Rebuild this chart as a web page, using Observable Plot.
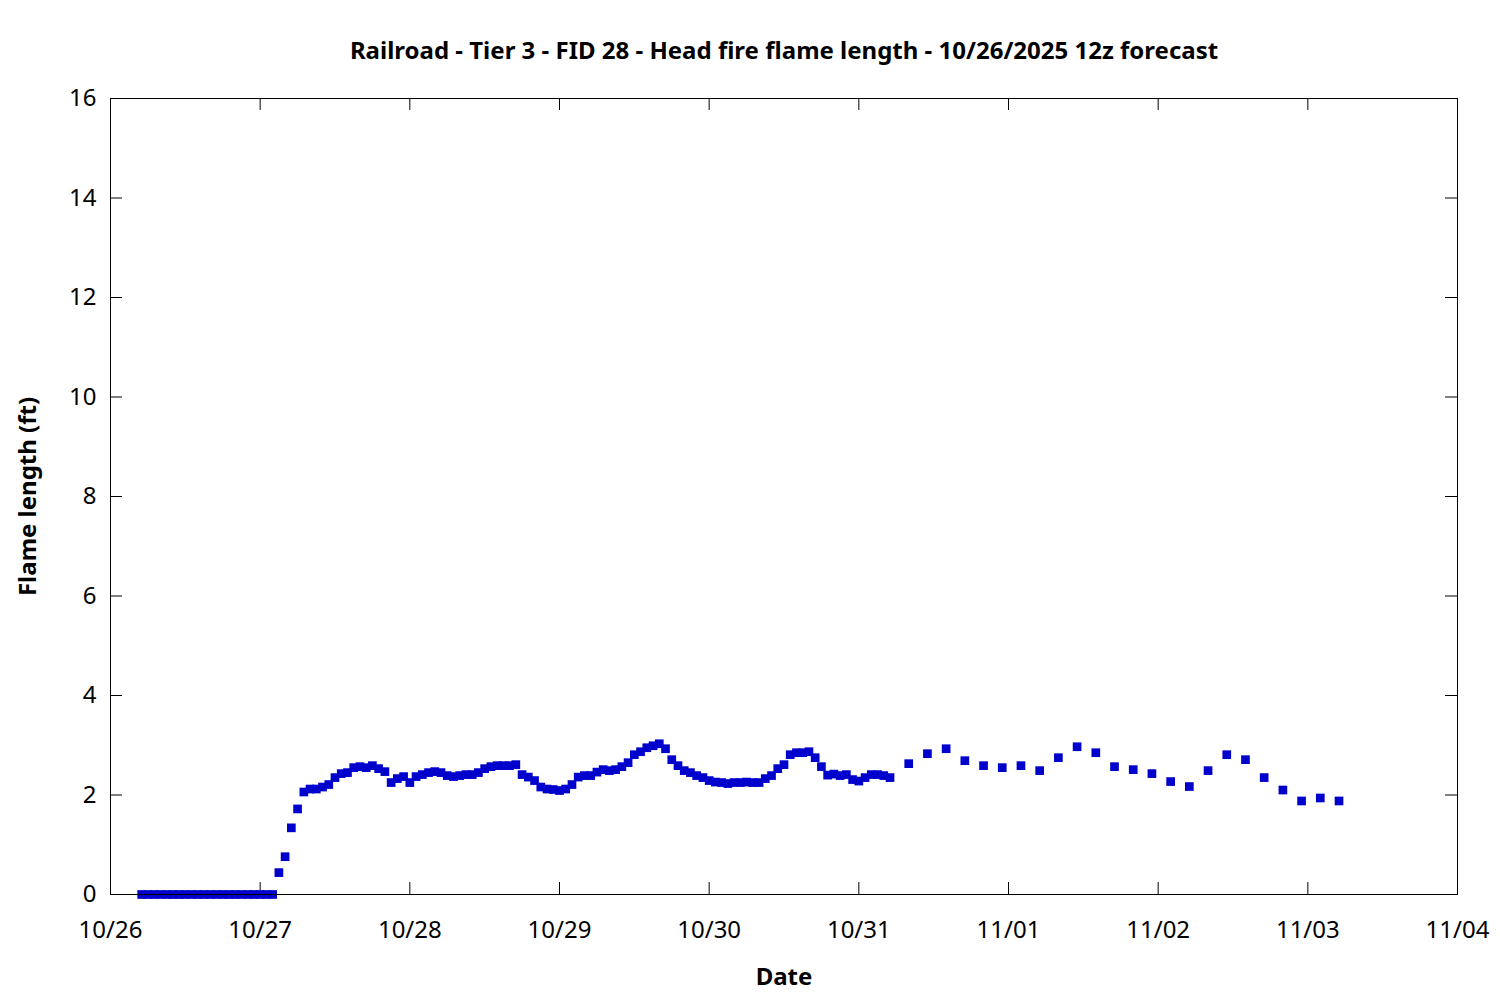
<!DOCTYPE html>
<html><head><meta charset="utf-8">
<script src="https://cdn.jsdelivr.net/npm/d3@7"></script>
<script src="https://cdn.jsdelivr.net/npm/@observablehq/plot@0.6"></script>
<style>body{margin:0;background:#fff;}</style>
</head><body><div id="chart"></div>
<script>
const titleText = "Railroad - Tier 3 - FID 28 - Head fire flame length - 10/26/2025 12z forecast";
const xLabel = "Date";
const yLabel = "Flame length (ft)";

// Hourly forecast values, 10/26 05:00 through 10/31 05:00
const hourlyStart = "2025-10-26T05:00:00Z";
const hourlyValues = [
  0,0,0,0,0,0,0,0,0,0,0,0,0,0,0,0,0,0,0,0,0,0,
  0.44,0.76,1.34,1.72,2.06,2.12,2.12,2.16,2.21,2.35,2.43,2.45,2.55,2.57,2.55,2.59,2.53,2.47,
  2.25,2.33,2.37,2.25,2.37,2.41,2.45,2.47,2.45,2.39,2.37,2.39,2.41,2.41,2.45,2.53,2.57,2.59,
  2.59,2.59,2.61,2.41,2.36,2.29,2.16,2.12,2.11,2.09,2.12,2.21,2.36,2.39,2.39,2.46,2.51,2.49,
  2.51,2.57,2.65,2.81,2.87,2.95,2.99,3.03,2.93,2.71,2.59,2.49,2.45,2.39,2.35,2.29,2.26,2.25,
  2.23,2.25,2.25,2.26,2.25,2.25,2.33,2.39,2.53,2.61,2.81,2.85,2.85,2.87,2.75,2.57,2.40,2.42,
  2.39,2.41,2.31,2.28,2.35,2.41,2.41,2.39,2.35
];

// 3-hourly forecast values, 10/31 08:00 through 11/03 05:00
const threeHourlyStart = "2025-10-31T08:00:00Z";
const threeHourlyValues = [
  2.63,2.83,2.93,2.69,2.59,2.55,2.59,2.49,2.75,2.97,2.85,2.57,
  2.51,2.43,2.27,2.17,2.49,2.81,2.71,2.35,2.10,1.88,1.94,1.88
];

const xTickLabels = ["10/26","10/27","10/28","10/29","10/30","10/31","11/01","11/02","11/03","11/04"];
const yTicks = [0,2,4,6,8,10,12,14,16];

const HOUR = 3600e3;
const data = [
  ...hourlyValues.map((v, i) => ({t: new Date(Date.parse(hourlyStart) + i * HOUR), v})),
  ...threeHourlyValues.map((v, i) => ({t: new Date(Date.parse(threeHourlyStart) + i * 3 * HOUR), v}))
];
const dayTicks = xTickLabels.map(s => {
  const [m, d] = s.split("/").map(Number);
  return new Date(Date.UTC(2025, m - 1, d));
});

const W = 1500, Ht = 1000, mL = 110, mR = 43, mT = 98, mB = 106;
const pw = W - mL - mR, ph = Ht - mT - mB;
const tickLen = 12;
const FS = 24;

const chart = Plot.plot({
  width: W, height: Ht,
  marginLeft: mL, marginRight: mR, marginTop: mT, marginBottom: mB,
  style: {fontFamily: "'Noto Sans', sans-serif", fontSize: FS + "px", color: "#000", background: "#fff"},
  x: {type: "utc", domain: [dayTicks[0], dayTicks[dayTicks.length - 1]]},
  y: {domain: [0, 16]},
  marks: [
    Plot.tickX(dayTicks, {x: d => d, insetTop: ph - tickLen, stroke: "#000"}),
    Plot.tickX(dayTicks, {x: d => d, insetBottom: ph - tickLen, stroke: "#000"}),
    Plot.tickY(yTicks, {y: d => d, insetRight: pw - tickLen, stroke: "#000"}),
    Plot.tickY(yTicks, {y: d => d, insetLeft: pw - tickLen, stroke: "#000"}),
    Plot.axisX(dayTicks, {tickSize: 0, tickPadding: 26, fontSize: FS, tickFormat: d => xTickLabels[dayTicks.findIndex(t => +t === +d)], label: null}),
    Plot.axisY(yTicks, {tickSize: 0, tickPadding: 14, fontSize: FS, tickFormat: d => String(d), label: null}),
    Plot.dot(data, {x: "t", y: "v", symbol: "square", r: 4.9, fill: "#0000cc"}),
    Plot.frame({stroke: "#000", strokeWidth: 1}),
    Plot.text([titleText], {text: d => d, frameAnchor: "top", dy: -47, textAnchor: "middle", lineAnchor: "middle", fontWeight: "bold", fontSize: FS}),
    Plot.text([xLabel], {text: d => d, frameAnchor: "bottom", dy: 83, textAnchor: "middle", lineAnchor: "middle", fontWeight: "bold", fontSize: FS}),
    Plot.text([yLabel], {text: d => d, frameAnchor: "left", dx: -82, rotate: -90, textAnchor: "middle", lineAnchor: "middle", fontWeight: "bold", fontSize: FS})
  ]
});
document.getElementById("chart").appendChild(chart);
</script>
</body></html>
